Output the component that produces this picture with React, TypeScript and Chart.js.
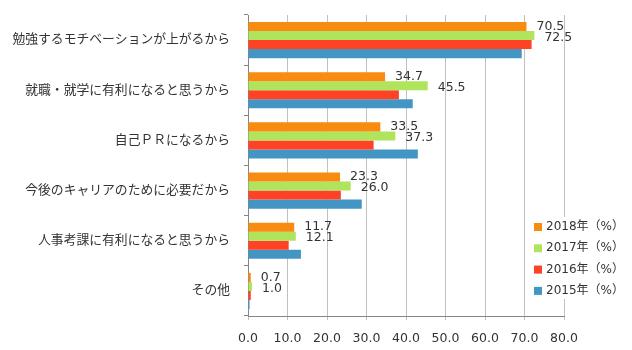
import React, { useEffect, useRef } from "react";
import { Chart, registerables } from "chart.js";

Chart.register(...registerables);

const categories = [
  "勉強するモチベーションが上がるから",
  "就職・就学に有利になると思うから",
  "自己ＰＲになるから",
  "今後のキャリアのために必要だから",
  "人事考課に有利になると思うから",
  "その他",
];
const seriesLabels = ["2018年（%）", "2017年（%）", "2016年（%）", "2015年（%）"];
const values2018 = [70.5, 34.7, 33.5, 23.3, 11.7, 0.7];
const values2017 = [72.5, 45.5, 37.3, 26.0, 12.1, 1.0];
const values2016 = [71.8, 38.2, 31.8, 23.5, 10.3, 0.7];
const values2015 = [69.3, 41.7, 43.0, 28.8, 13.4, 0.4];
const colors = ["#F78C10", "#B0E45C", "#FF4125", "#4396C4"];
const xTicks = { min: 0, max: 80, step: 10 };

const FONT = '"DejaVu Sans", "Noto Sans CJK JP", sans-serif';

const labelPlugin = {
  id: "valueLabels",
  afterDatasetsDraw(chart: any) {
    const ctx = chart.ctx;
    ctx.save();
    ctx.font = `12.5px ${FONT}`;
    ctx.fillStyle = "#333333";
    ctx.textAlign = "left";
    ctx.textBaseline = "middle";
    [0, 1].forEach((di) => {
      const meta = chart.getDatasetMeta(di);
      const ds = chart.data.datasets[di];
      meta.data.forEach((el: any, i: number) => {
        const v = ds.data[i] as number;
        ctx.fillText(v.toFixed(1), el.x + 10, el.y + (di === 1 ? 2 : 0));
      });
    });
    ctx.restore();
  },
};

const legendPlugin = {
  id: "overlayLegend",
  afterDraw(chart: any) {
    const ctx = chart.ctx;
    const W = chart.width;
    const H = chart.height;
    ctx.save();
    const bx = W - 102;
    const by = H - 133;
    ctx.fillStyle = "#ffffff";
    ctx.fillRect(bx, by, 102, 82);
    ctx.font = `12px ${FONT}`;
    ctx.textAlign = "left";
    ctx.textBaseline = "middle";
    chart.data.datasets.forEach((ds: any, i: number) => {
      const cy = by + 10 + i * 21.3;
      ctx.fillStyle = ds.backgroundColor;
      ctx.fillRect(bx + 4, cy - 4, 8, 8);
      ctx.fillStyle = "#333333";
      ctx.fillText(ds.label, bx + 16, cy);
    });
    ctx.restore();
  },
};

export default function App() {
  const ref = useRef<HTMLCanvasElement>(null);
  useEffect(() => {
    if (!ref.current) return;
    const allValues = [values2018, values2017, values2016, values2015];
    const chart = new Chart(ref.current, {
      type: "bar",
      data: {
        labels: categories,
        datasets: allValues.map((vals, i) => ({
          label: seriesLabels[i],
          data: vals,
          backgroundColor: colors[i],
          borderWidth: 0,
          categoryPercentage: 0.72,
          barPercentage: 1,
        })),
      },
      options: {
        indexAxis: "y",
        animation: false,
        responsive: true,
        maintainAspectRatio: false,
        layout: { padding: { top: 15, right: 68, left: 0, bottom: 0 } },
        plugins: { legend: { display: false }, tooltip: { enabled: false } },
        scales: {
          x: {
            min: xTicks.min,
            max: xTicks.max,
            afterFit: (s: any) => {
              s.height = 34;
            },
            ticks: {
              stepSize: xTicks.step,
              callback: (v: any) => Number(v).toFixed(1),
              font: { family: FONT, size: 12.5 },
              color: "#333333",
              padding: 11,
            },
            grid: { color: "#c0c0c0", tickLength: 4, lineWidth: 1 },
            border: { color: "#868686" },
          },
          y: {
            afterFit: (s: any) => {
              s.width = 248;
              s.paddingTop = 0;
              s.paddingBottom = 0;
            },
            ticks: {
              font: { family: FONT, size: 12.8 },
              color: "#333333",
              padding: 14,
            },
            grid: { drawOnChartArea: false, tickLength: 4, color: "#868686", offset: true },
            border: { color: "#868686" },
          },
        },
      },
      plugins: [labelPlugin, legendPlugin],
    });
    return () => chart.destroy();
  }, []);
  return (
    <div style={{ position: "absolute", left: 0, top: 0, width: 632, height: 350, background: "#fff" }}>
      <canvas ref={ref} />
    </div>
  );
}
